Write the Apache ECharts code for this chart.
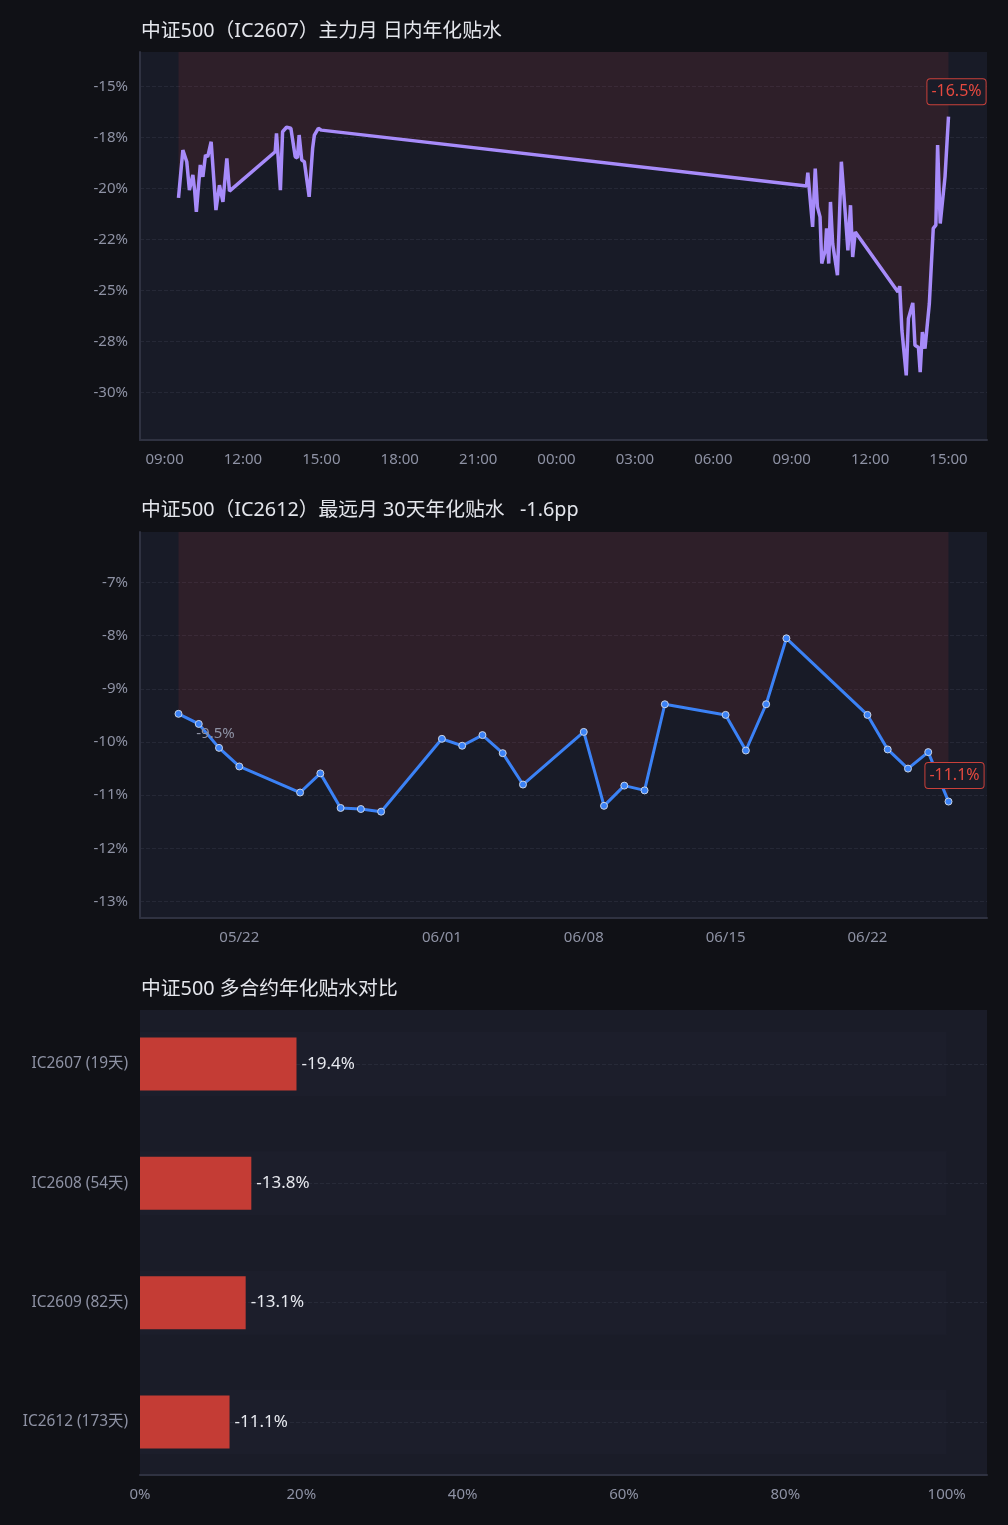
<!DOCTYPE html>
<html>
<head>
<meta charset="utf-8">
<title>中证500 年化贴水</title>
<script src="https://cdn.jsdelivr.net/npm/echarts@6/dist/echarts.min.js"></script>
<style>
  html, body { margin: 0; padding: 0; background: #101116; }
  #main { width: 1008px; height: 1525px; }
</style>
</head>
<body>
<div id="main"></div>
<script>
// ---- 日内数据 (IC2607) ----
var intraTimes = [
  '2026-06-25 09:32', '2026-06-25 09:42', '2026-06-25 09:51', '2026-06-25 09:57', '2026-06-25 10:05',
  '2026-06-25 10:09', '2026-06-25 10:13', '2026-06-25 10:22', '2026-06-25 10:28', '2026-06-25 10:34',
  '2026-06-25 10:39', '2026-06-25 10:47', '2026-06-25 10:58', '2026-06-25 11:06', '2026-06-25 11:14',
  '2026-06-25 11:23', '2026-06-25 11:29', '2026-06-25 13:14', '2026-06-25 13:17', '2026-06-25 13:26',
  '2026-06-25 13:31', '2026-06-25 13:40', '2026-06-25 13:50', '2026-06-25 14:00', '2026-06-25 14:05',
  '2026-06-25 14:09', '2026-06-25 14:15', '2026-06-25 14:21', '2026-06-25 14:32', '2026-06-25 14:40',
  '2026-06-25 14:44', '2026-06-25 14:53', '2026-06-25 15:00',
  '2026-06-26 09:34', '2026-06-26 09:37', '2026-06-26 09:48', '2026-06-26 09:54', '2026-06-26 09:59',
  '2026-06-26 10:05', '2026-06-26 10:09', '2026-06-26 10:17', '2026-06-26 10:20', '2026-06-26 10:25',
  '2026-06-26 10:29', '2026-06-26 10:34', '2026-06-26 10:45', '2026-06-26 10:54', '2026-06-26 11:03',
  '2026-06-26 11:09', '2026-06-26 11:15', '2026-06-26 11:20', '2026-06-26 11:26', '2026-06-26 11:30',
  '2026-06-26 13:04', '2026-06-26 13:08', '2026-06-26 13:13', '2026-06-26 13:23', '2026-06-26 13:28',
  '2026-06-26 13:38', '2026-06-26 13:43', '2026-06-26 13:51', '2026-06-26 13:55', '2026-06-26 14:00',
  '2026-06-26 14:06', '2026-06-26 14:16', '2026-06-26 14:25', '2026-06-26 14:31', '2026-06-26 14:35',
  '2026-06-26 14:41', '2026-06-26 14:52', '2026-06-26 15:00'
];
var intraValues = [
  -20.45, -18.11, -18.68, -20.07, -19.33,
  -20.07, -21.14, -18.84, -19.42, -18.35,
  -18.44, -17.70, -21.05, -19.83, -20.65,
  -18.51, -20.12, -18.19, -17.29, -20.07,
  -17.21, -16.99, -17.04, -18.44, -18.49,
  -17.37, -18.60, -18.68, -20.40, -18.02,
  -17.37, -17.04, -17.13,
  -19.87, -19.22, -21.87, -19.01, -20.89,
  -21.38, -23.67, -23.02, -21.95, -23.67,
  -20.65, -22.69, -24.24, -18.68, -21.22,
  -23.02, -20.81, -23.35, -22.12, -22.20,
  -25.06, -24.78, -26.94, -29.15, -26.37,
  -25.60, -27.68, -27.79, -28.99, -27.03,
  -27.84, -25.63, -21.95, -21.79, -17.86,
  -21.71, -19.42, -16.47
];
var intraTickTimes = [
  '2026-06-25 09:00', '2026-06-25 12:00', '2026-06-25 15:00', '2026-06-25 18:00', '2026-06-25 21:00',
  '2026-06-26 00:00', '2026-06-26 03:00', '2026-06-26 06:00', '2026-06-26 09:00', '2026-06-26 12:00',
  '2026-06-26 15:00'
];
var intraTickValues = [-15, -17.5, -20, -22.5, -25, -27.5, -30];
var intraTickLabels = ['-15%', '-18%', '-20%', '-22%', '-25%', '-28%', '-30%'];

// ---- 最远月 30天 (IC2612) ----
var farDates = [
  '2026-05-19', '2026-05-20', '2026-05-21', '2026-05-22', '2026-05-25', '2026-05-26', '2026-05-27',
  '2026-05-28', '2026-05-29', '2026-06-01', '2026-06-02', '2026-06-03', '2026-06-04', '2026-06-05',
  '2026-06-08', '2026-06-09', '2026-06-10', '2026-06-11', '2026-06-12', '2026-06-15', '2026-06-16',
  '2026-06-17', '2026-06-18', '2026-06-22', '2026-06-23', '2026-06-24', '2026-06-25', '2026-06-26'
];
var farValues = [
  -9.47, -9.66, -10.11, -10.46, -10.95, -10.59, -11.24,
  -11.26, -11.31, -9.94, -10.07, -9.87, -10.21, -10.80,
  -9.81, -11.20, -10.82, -10.91, -9.29, -9.49, -10.16,
  -9.29, -8.05, -9.49, -10.14, -10.50, -10.19, -11.12
];
var farTickDates = ['2026-05-22', '2026-06-01', '2026-06-08', '2026-06-15', '2026-06-22'];
var farTickValues = [-13, -12, -11, -10, -9, -8, -7];

// ---- 多合约对比 ----
var contracts = ['IC2607', 'IC2608', 'IC2609', 'IC2612'];
var contractDays = [19, 54, 82, 173];
var contractValues = [-19.4, -13.8, -13.1, -11.1];
var barTickValues = [0, 20, 40, 60, 80, 100];

var FONT = '"Noto Sans", "Noto Sans CJK SC", sans-serif';
var axisGrey = '#8e92a4';
var lineGrey = '#2f3241';
var splitGrey = '#252836';

function toMs(s) {
  var p = s.split(/[- :]/);
  return new Date(+p[0], +p[1] - 1, +p[2], +(p[3] || 0), +(p[4] || 0)).getTime();
}
function pad2(n) { return (n < 10 ? '0' : '') + n; }
function padX(v) { return (v.max - v.min) * 0.05; }
function padY(v) { return Math.max(2, (v.max - v.min) * 0.25); }

var catNames = contracts.map(function (c, i) { return c + ' (' + contractDays[i] + '天)'; });
var farChange = farValues[farValues.length - 1] - farValues[0];

var intraData = intraTimes.map(function (t, i) { return [toMs(t), intraValues[i]]; });
var farData = farDates.map(function (d, i) { return [toMs(d), farValues[i]]; });
var lastIntra = intraData[intraData.length - 1];
var lastFar = farData[farData.length - 1];

var boxLabel = {
  show: true,
  color: '#e5493f',
  fontSize: 16,
  fontFamily: FONT,
  backgroundColor: '#1a1c28',
  borderColor: '#c9403a',
  borderWidth: 1,
  borderRadius: 3,
  padding: [5, 4, 4, 4]
};
var titleStyle = { color: '#e4e6ec', fontSize: 19.8, fontWeight: 'normal', fontFamily: FONT };

var myChart = echarts.init(document.getElementById('main'), null, { renderer: 'canvas' });

var option = {
  backgroundColor: '#101116',
  animation: false,
  textStyle: { fontFamily: FONT },
  title: [
    { text: '中证500（IC2607）主力月 日内年化贴水', left: 141, top: 21, padding: 0, textStyle: titleStyle },
    { text: '中证500（IC2612）最远月 30天年化贴水   ' + farChange.toFixed(1) + 'pp', left: 141, top: 500, padding: 0,
      textStyle: titleStyle },
    { text: '中证500 多合约年化贴水对比', left: 141, top: 979, padding: 0, textStyle: titleStyle }
  ],
  grid: [
    { left: 140, right: 21, top: 52, height: 388, show: true, backgroundColor: '#181b27', borderWidth: 0 },
    { left: 140, right: 21, top: 532, height: 386, show: true, backgroundColor: '#181b27', borderWidth: 0 },
    // 对比图：背景 + x 轴
    { left: 140, right: 21, top: 1010, height: 465, show: true, backgroundColor: '#1a1c28', borderWidth: 0 },
    // 对比图：柱子所在的类目区
    { left: 140, right: 21, top: 1004.4, height: 477.2, show: false }
  ],
  xAxis: [
    {
      type: 'value', gridIndex: 0, scale: true,
      min: function (v) { return v.min - padX(v); },
      max: function (v) { return v.max + padX(v); },
      axisLine: { lineStyle: { color: lineGrey, width: 2 } },
      axisTick: { show: false, customValues: intraTickTimes.map(toMs) },
      splitLine: { show: false },
      axisLabel: {
        color: axisGrey, fontSize: 15, margin: 12,
        customValues: intraTickTimes.map(toMs),
        formatter: function (v) { var d = new Date(v); return pad2(d.getHours()) + ':' + pad2(d.getMinutes()); }
      }
    },
    {
      type: 'value', gridIndex: 1, scale: true,
      min: function (v) { return v.min - padX(v); },
      max: function (v) { return v.max + padX(v); },
      axisLine: { lineStyle: { color: lineGrey, width: 2 } },
      axisTick: { show: false, customValues: farTickDates.map(toMs) },
      splitLine: { show: false },
      axisLabel: {
        color: axisGrey, fontSize: 15, margin: 12,
        customValues: farTickDates.map(toMs),
        formatter: function (v) { var d = new Date(v); return pad2(d.getMonth() + 1) + '/' + pad2(d.getDate()); }
      }
    },
    {
      type: 'value', gridIndex: 2, min: 0, max: 105,
      axisLine: { show: true, lineStyle: { color: lineGrey, width: 2 } },
      axisTick: { show: false, customValues: barTickValues },
      splitLine: { show: false },
      axisLabel: {
        color: axisGrey, fontSize: 15, margin: 12,
        customValues: barTickValues,
        formatter: function (v) { return v + '%'; }
      }
    },
    { type: 'value', gridIndex: 3, min: 0, max: 105, show: false }
  ],
  yAxis: [
    {
      type: 'value', gridIndex: 0,
      min: function (v) { return v.min - padY(v); },
      max: function (v) { return v.max + padY(v); },
      axisLine: { show: true, lineStyle: { color: lineGrey, width: 2 } },
      axisTick: { show: false, customValues: intraTickValues },
      splitLine: { show: true, lineStyle: { color: splitGrey, type: 'dashed' } },
      axisLabel: {
        color: axisGrey, fontSize: 15, margin: 12,
        customValues: intraTickValues,
        formatter: function (v) {
          var i = intraTickValues.indexOf(v);
          return i >= 0 ? intraTickLabels[i] : '';
        }
      }
    },
    {
      type: 'value', gridIndex: 1,
      min: function (v) { return v.min - padY(v); },
      max: function (v) { return v.max + padY(v); },
      axisLine: { show: true, lineStyle: { color: lineGrey, width: 2 } },
      axisTick: { show: false, customValues: farTickValues },
      splitLine: { show: true, lineStyle: { color: splitGrey, type: 'dashed' } },
      axisLabel: {
        color: axisGrey, fontSize: 15, margin: 12,
        customValues: farTickValues,
        formatter: function (v) { return v + '%'; }
      }
    },
    { type: 'value', gridIndex: 2, min: 0, max: 1, show: false },
    {
      type: 'category', gridIndex: 3, inverse: true, data: catNames,
      axisLine: { show: false },
      axisTick: { show: false },
      splitLine: { show: false },
      axisLabel: { color: axisGrey, fontSize: 15.4, margin: 12 }
    },
    {
      type: 'category', gridIndex: 3, inverse: true, data: catNames, show: false
    }
  ],
  series: [
    {
      name: 'IC2607', type: 'line', xAxisIndex: 0, yAxisIndex: 0,
      data: intraData,
      showSymbol: false,
      lineStyle: { color: '#a78bfa', width: 3.5 },
      itemStyle: { color: '#a78bfa' },
      areaStyle: { origin: 'end', color: 'rgba(239,68,68,0.15)' },
      markPoint: {
        symbol: 'circle', symbolSize: 0, silent: true,
        label: Object.assign({}, boxLabel, { offset: [8, -25], formatter: function (p) { return p.value.toFixed(1) + '%'; } }),
        data: [{ coord: lastIntra, value: lastIntra[1] }]
      }
    },
    {
      name: 'IC2612', type: 'line', xAxisIndex: 1, yAxisIndex: 1,
      data: farData,
      symbol: 'circle', symbolSize: 7, showSymbol: true,
      lineStyle: { color: '#3b82f6', width: 3 },
      itemStyle: { color: '#3b82f6', borderColor: '#c8d3e6', borderWidth: 1 },
      areaStyle: { origin: 'end', color: 'rgba(239,68,68,0.15)' },
      markPoint: {
        symbol: 'circle', symbolSize: 0, silent: true,
        data: [
          { coord: farData[0], value: farData[0][1],
            label: { show: true, color: '#8e92a4', fontSize: 15, fontFamily: FONT, offset: [37, 20],
              formatter: function (p) { return p.value.toFixed(1) + '%'; } } },
          { coord: lastFar, value: lastFar[1],
            label: Object.assign({}, boxLabel, { offset: [6, -26], formatter: function (p) { return p.value.toFixed(1) + '%'; } }) }
        ]
      }
    },
    {
      name: 'bg', type: 'bar', xAxisIndex: 3, yAxisIndex: 4, z: 1,
      data: catNames.map(function () { return 100; }),
      barWidth: 64, silent: true,
      itemStyle: { color: '#1c1e2b' },
      markLine: {
        silent: true, symbol: 'none', label: { show: false }, z: 2,
        lineStyle: { color: '#272a38', type: 'dashed', width: 1 },
        data: catNames.map(function (n) { return { yAxis: n }; })
      }
    },
    {
      name: '年化贴水', type: 'bar', xAxisIndex: 3, yAxisIndex: 3, z: 3,
      data: contractValues.map(function (v) { return Math.abs(v); }),
      barWidth: 53,
      itemStyle: { color: '#c43c35' },
      label: {
        show: true, position: 'right', distance: 5, color: '#e6e8ee', fontSize: 17, fontFamily: FONT,
        formatter: function (p) { return contractValues[p.dataIndex].toFixed(1) + '%'; }
      }
    }
  ]
};

myChart.setOption(option);

window.addEventListener('resize', function () {
  myChart.resize();
});
</script>
</body>
</html>
